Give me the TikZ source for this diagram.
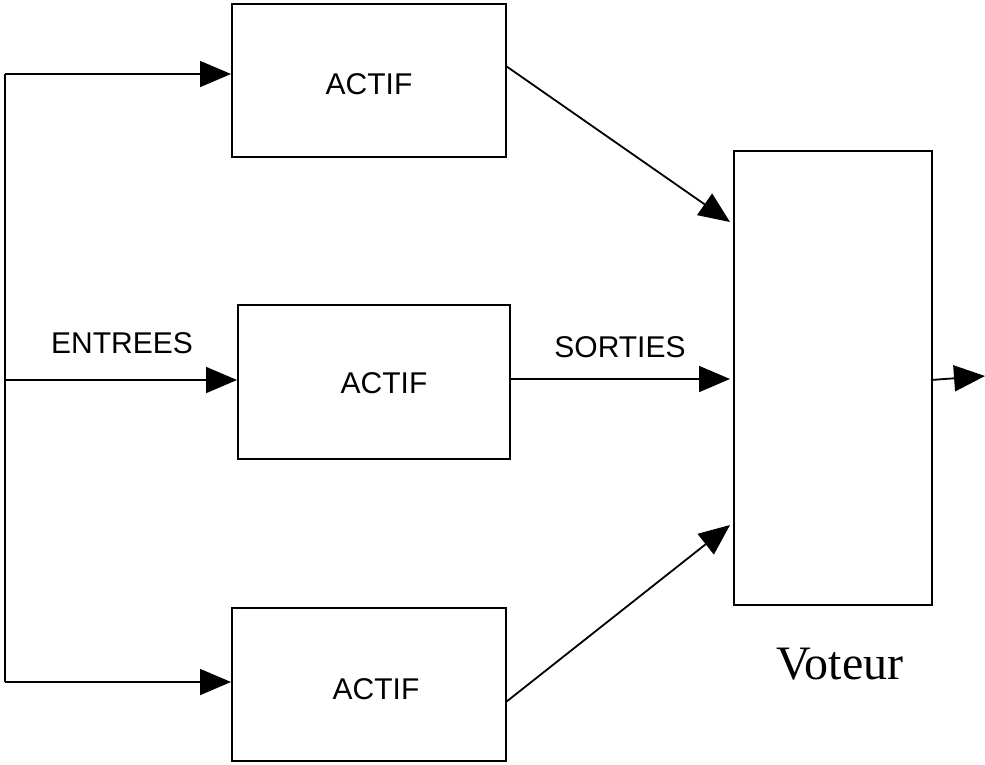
\documentclass[tikz,border=0pt]{standalone}
\usepackage{fontspec}
\setmainfont{Liberation Serif}
\setsansfont{Liberation Sans}
\usetikzlibrary{arrows.meta}
\begin{document}
\begin{tikzpicture}[x=1pt,y=-1pt,
  box/.style={draw,line width=2pt,inner sep=0pt,anchor=north west},
  lbl/.style={font=\sffamily\fontsize{30}{36}\selectfont,anchor=base,inner sep=0pt},
  conn/.style={line width=1.8pt},
  arr/.style={conn,-{Triangle[length=31pt,width=26pt]}}]
\useasboundingbox (0,0) rectangle (985,764);
% boxes
\node[box,minimum width=274pt,minimum height=153pt] (b1) at (231,3) {};
\node[box,minimum width=272pt,minimum height=154pt] (b2) at (237,304) {};
\node[box,minimum width=274pt,minimum height=153pt] (b3) at (231,607) {};
\node[box,minimum width=198pt,minimum height=454pt] (v) at (733,150) {};
% texts
\node[lbl] (t1) at (369,94) {ACTIF};
\node[lbl] (t2) at (384,393) {ACTIF};
\node[lbl] (t3) at (376,699) {ACTIF};
\node[lbl] (ent) at (122,353) {ENTREES};
\node[lbl] (sor) at (620,357) {SORTIES};
\node[font=\fontsize{48}{56}\selectfont,anchor=base,inner sep=0pt] (vt) at (840,679) {Voteur};
% input bus
\coordinate (i1) at (5,74);
\coordinate (i2) at (5,380);
\coordinate (i3) at (5,682);
\draw[conn] (i1) -- (i3);
\draw[arr] (i1) -- (i1 -| b1.west);
\draw[arr] (i2) -- (i2 -| b2.west);
\draw[arr] (i3) -- (i3 -| b3.west);
% outputs to voter
\coordinate (o1) at (506,66);
\coordinate (o2) at (509,379);
\coordinate (o3) at (506,702);
\coordinate (e1) at (730,222);
\coordinate (e2) at (730,379);
\coordinate (e3) at (730,525);
\draw[arr] (o1) -- (e1);
\draw[arr] (o2) -- (e2);
\draw[arr] (o3) -- (e3);
% voter output
\coordinate (vo) at (931,380);
\coordinate (out) at (985,376);
\draw[arr] (vo) -- (out);
\end{tikzpicture}
\end{document}
